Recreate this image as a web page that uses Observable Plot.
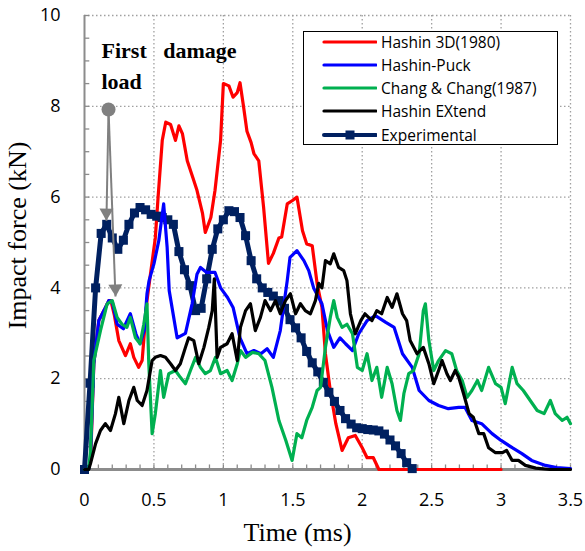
<!DOCTYPE html>
<html><head><meta charset="utf-8">
<script src="https://cdn.jsdelivr.net/npm/d3@7"></script>
<script src="https://cdn.jsdelivr.net/npm/@observablehq/plot@0.6"></script>
<style>
html,body{margin:0;padding:0;background:#fff;}
#wrap{position:relative;width:585px;height:551px;}
#legend{position:absolute;left:303px;top:31px;width:253px;height:112px;border:1.5px solid #000;background:#fff;font-family:"Open Sans",sans-serif;font-size:15.5px;color:#000;}
#legend .row{position:absolute;left:0;height:20px;white-space:nowrap;}
#legend .row svg{position:absolute;left:17px;top:0;}
#legend .row span{position:absolute;left:77px;top:0;line-height:20px;}
</style>
</head><body><div id="wrap"></div>
<script>
// ---- Data ----
const xTicks = [0, 0.5, 1, 1.5, 2, 2.5, 3, 3.5];
const yTicks = [0, 2, 4, 6, 8, 10];

const seriesNames = ["Hashin 3D(1980)", "Hashin-Puck", "Chang & Chang(1987)", "Hashin EXtend", "Experimental"];
const seriesColors = ["#ff0000", "#0000ff", "#00b050", "#000000", "#002060"];

const hashin3dT = [0, 0.03, 0.045, 0.067, 0.103, 0.14, 0.175, 0.19, 0.215, 0.247, 0.295, 0.33, 0.355, 0.39, 0.415, 0.45, 0.475, 0.51, 0.53, 0.56, 0.585, 0.62, 0.655, 0.68, 0.705, 0.74, 0.78, 0.81, 0.85, 0.87, 0.91, 0.94, 0.98, 1.0, 1.04, 1.07, 1.1, 1.12, 1.145, 1.17, 1.2, 1.22, 1.255, 1.29, 1.325, 1.36, 1.4, 1.42, 1.46, 1.495, 1.53, 1.57, 1.6, 1.64, 1.675, 1.71, 1.735, 1.77, 1.81, 1.855, 1.9, 1.95, 2.0, 2.035, 2.08, 2.12, 3.0];
const hashin3dF = [0, 0, 0.26, 2.33, 3.28, 3.5, 3.72, 3.72, 3.4, 2.84, 2.51, 2.77, 2.47, 2.25, 2.4, 3.72, 4.3, 5.1, 6.0, 7.25, 7.65, 7.6, 7.25, 7.57, 7.4, 6.8, 6.43, 6.15, 5.64, 5.22, 5.55, 6.15, 7.25, 8.5, 8.45, 8.2, 8.3, 8.52, 8.0, 7.45, 7.2, 6.96, 6.8, 5.77, 4.54, 4.76, 5.1, 5.12, 5.85, 5.92, 6.0, 5.26, 4.97, 4.93, 4.1, 3.57, 2.55, 1.74, 1.01, 0.42, 0.7, 0.75, 0.48, 0.26, 0.26, 0, 0];

const puckT = [0, 0.03, 0.043, 0.067, 0.103, 0.14, 0.175, 0.2, 0.235, 0.28, 0.33, 0.37, 0.4, 0.43, 0.45, 0.465, 0.5, 0.535, 0.57, 0.595, 0.61, 0.667, 0.727, 0.775, 0.81, 0.835, 0.88, 0.94, 0.98, 1.03, 1.07, 1.12, 1.17, 1.22, 1.27, 1.315, 1.36, 1.41, 1.46, 1.48, 1.53, 1.58, 1.615, 1.65, 1.71, 1.75, 1.795, 1.84, 1.88, 1.93, 1.975, 2.035, 2.095, 2.17, 2.23, 2.29, 2.36, 2.41, 2.48, 2.55, 2.62, 2.695, 2.74, 2.79, 2.86, 2.935, 3.0, 3.08, 3.15, 3.22, 3.32, 3.4, 3.5];
const puckF = [0, 0, 0.26, 2.33, 3.28, 3.5, 3.72, 3.7, 3.2, 3.1, 3.43, 2.99, 2.77, 3.06, 3.87, 4.16, 4.53, 5.04, 5.85, 4.9, 3.94, 2.9, 3.0, 3.65, 4.3, 4.45, 4.34, 4.34, 4.0, 3.79, 3.57, 2.9, 2.55, 2.62, 2.55, 2.66, 2.47, 3.06, 4.16, 4.67, 4.82, 4.6, 4.38, 4.0, 3.65, 3.06, 2.69, 2.9, 2.77, 2.62, 2.99, 3.28, 3.39, 3.24, 3.13, 2.55, 2.25, 1.74, 1.52, 1.41, 1.34, 1.37, 1.37, 1.08, 1.01, 0.79, 0.64, 0.48, 0.35, 0.2, 0.09, 0.04, 0.02];

const changT = [0, 0.03, 0.043, 0.067, 0.115, 0.163, 0.2, 0.235, 0.27, 0.305, 0.33, 0.367, 0.4, 0.427, 0.45, 0.463, 0.487, 0.51, 0.547, 0.57, 0.607, 0.655, 0.69, 0.727, 0.763, 0.8, 0.835, 0.87, 0.907, 0.943, 0.98, 1.027, 1.063, 1.1, 1.123, 1.16, 1.21, 1.255, 1.3, 1.35, 1.4, 1.45, 1.495, 1.53, 1.565, 1.6, 1.64, 1.675, 1.7, 1.735, 1.77, 1.795, 1.82, 1.855, 1.89, 1.93, 1.965, 2.0, 2.035, 2.07, 2.105, 2.14, 2.18, 2.215, 2.25, 2.275, 2.3, 2.335, 2.37, 2.41, 2.44, 2.455, 2.48, 2.515, 2.55, 2.6, 2.645, 2.68, 2.72, 2.755, 2.79, 2.83, 2.86, 2.91, 2.96, 3.0, 3.03, 3.08, 3.115, 3.16, 3.21, 3.26, 3.31, 3.355, 3.39, 3.44, 3.475, 3.5];
const changF = [0, 0, 0.4, 2.4, 3.06, 3.65, 3.72, 3.35, 3.2, 3.13, 3.35, 2.9, 2.77, 3.2, 3.65, 2.33, 0.79, 1.23, 2.18, 1.59, 2.11, 2.18, 2.03, 1.89, 2.18, 2.47, 2.25, 2.11, 2.18, 2.47, 2.11, 2.18, 1.96, 2.33, 2.62, 2.47, 2.58, 2.55, 2.4, 1.81, 1.08, 0.64, 0.2, 0.79, 0.7, 1.08, 1.37, 1.74, 1.81, 2.69, 3.35, 3.72, 3.35, 3.13, 3.2, 2.99, 2.25, 2.18, 2.55, 1.96, 2.25, 1.59, 2.25, 1.89, 1.3, 1.08, 1.67, 2.11, 2.18, 2.55, 3.5, 3.65, 2.84, 2.18, 2.4, 2.62, 2.55, 2.18, 1.96, 1.59, 1.74, 1.96, 1.74, 2.25, 1.89, 1.81, 1.45, 2.25, 1.89, 1.74, 1.52, 1.3, 1.23, 1.52, 1.23, 1.08, 1.15, 1.01];

const extendT = [0, 0.03, 0.043, 0.08, 0.115, 0.15, 0.187, 0.223, 0.247, 0.283, 0.32, 0.355, 0.38, 0.415, 0.45, 0.487, 0.51, 0.547, 0.583, 0.62, 0.655, 0.69, 0.727, 0.75, 0.787, 0.823, 0.86, 0.895, 0.92, 0.935, 0.955, 0.98, 1.027, 1.063, 1.1, 1.123, 1.16, 1.195, 1.23, 1.267, 1.3, 1.34, 1.375, 1.41, 1.447, 1.483, 1.52, 1.555, 1.59, 1.627, 1.663, 1.687, 1.71, 1.735, 1.77, 1.795, 1.83, 1.867, 1.89, 1.915, 1.95, 1.99, 2.02, 2.07, 2.105, 2.14, 2.18, 2.215, 2.25, 2.29, 2.32, 2.345, 2.395, 2.44, 2.48, 2.515, 2.55, 2.575, 2.61, 2.635, 2.67, 2.695, 2.73, 2.77, 2.8, 2.84, 2.875, 2.91, 2.96, 3.01, 3.04, 3.08, 3.125, 3.175, 3.25, 3.35, 3.5];
const extendF = [0, 0, 0.13, 0.57, 0.86, 1.01, 0.86, 1.23, 1.59, 1.01, 1.52, 1.81, 1.52, 1.41, 1.74, 2.4, 2.47, 2.51, 2.47, 2.33, 2.18, 2.33, 2.69, 2.9, 2.84, 2.33, 2.69, 3.13, 3.5, 4.2, 2.47, 2.69, 2.77, 2.99, 2.4, 3.13, 3.5, 3.65, 3.06, 3.35, 3.72, 3.5, 3.72, 3.43, 3.72, 3.87, 3.43, 3.65, 3.5, 3.43, 3.72, 4.1, 4.0, 4.6, 4.53, 4.75, 4.45, 4.38, 4.16, 3.43, 2.99, 3.28, 3.43, 3.28, 3.5, 3.43, 3.79, 3.57, 3.87, 3.43, 3.28, 2.84, 2.55, 2.69, 2.33, 1.89, 2.18, 2.4, 2.11, 1.96, 2.18, 2.03, 1.67, 1.23, 1.15, 0.79, 0.79, 0.48, 0.37, 0.37, 0.42, 0.2, 0.2, 0.09, 0.03, 0, 0];

const expT = [0, 0.04, 0.08, 0.12, 0.16, 0.2, 0.24, 0.28, 0.32, 0.36, 0.4, 0.44, 0.48, 0.52, 0.56, 0.6, 0.64, 0.68, 0.72, 0.76, 0.8, 0.84, 0.88, 0.92, 0.96, 1.0, 1.04, 1.08, 1.12, 1.16, 1.2, 1.24, 1.28, 1.32, 1.36, 1.4, 1.44, 1.48, 1.52, 1.56, 1.6, 1.64, 1.68, 1.72, 1.76, 1.8, 1.84, 1.88, 1.92, 1.96, 2.0, 2.04, 2.08, 2.12, 2.16, 2.2, 2.24, 2.28, 2.32, 2.36];
const expF = [0, 1.9, 4.0, 5.2, 5.4, 5.1, 4.85, 5.05, 5.4, 5.65, 5.77, 5.72, 5.62, 5.58, 5.55, 5.5, 5.4, 4.8, 4.4, 4.05, 3.5, 3.55, 4.2, 4.85, 5.3, 5.5, 5.7, 5.68, 5.55, 5.15, 4.6, 4.2, 4.0, 3.9, 3.82, 3.72, 3.55, 3.3, 3.12, 2.9, 2.6, 2.35, 2.15, 1.92, 1.7, 1.5, 1.3, 1.12, 1.0, 0.92, 0.9, 0.88, 0.87, 0.85, 0.78, 0.65, 0.52, 0.35, 0.15, 0.02];

// first damage annotation (time, force)
const damageOrigin = [{t: 0.173, f: 7.93}];
const damageTargets = [{t: 0.158, f: 5.48, rot: 181}, {t: 0.223, f: 3.81, rot: 178}];

// ---- Build ----
const toRows = (T, F) => T.map((t, i) => ({t, f: F[i]}));
const red = toRows(hashin3dT, hashin3dF);
const blue = toRows(puckT, puckF);
const green = toRows(changT, changF);
const black = toRows(extendT, extendF);
const exp = toRows(expT, expF);

const xMinor = d3.range(0, 36).map(i => i / 10);
const yMinor = d3.range(0, 21).map(i => i / 2);
const grey = "#8c8c8c";
const gridStyle = {stroke: "#a0a0a0", strokeOpacity: 1, strokeWidth: 1.3, strokeDasharray: "1.5,2.5"};

const links = damageTargets.map(d => ({x1: damageOrigin[0].t, y1: damageOrigin[0].f, x2: d.t, y2: d.f}));

const chart = Plot.plot({
  width: 585, height: 551,
  marginLeft: 84, marginRight: 15, marginTop: 15, marginBottom: 82,
  x: {domain: [0, 3.5]},
  y: {domain: [0, 10]},
  style: {fontFamily: "'Open Sans', sans-serif", background: "#fff", color: "#000"},
  marks: [
    Plot.gridX(xTicks.slice(1), gridStyle),
    Plot.gridY(yTicks.slice(1), gridStyle),
    Plot.ruleX(xMinor, {y1: 0, y2: 0.1, stroke: grey, strokeWidth: 1.3}),
    Plot.ruleY(yMinor, {x1: 0, x2: 0.038, stroke: grey, strokeWidth: 1.3}),
    Plot.ruleY([0], {stroke: grey, strokeWidth: 3}),
    Plot.ruleX([0], {stroke: grey, strokeWidth: 2}),
    Plot.line(red, {x: "t", y: "f", stroke: seriesColors[0], strokeWidth: 3.2}),
    Plot.line(exp, {x: "t", y: "f", stroke: seriesColors[4], strokeWidth: 5}),
    Plot.dot(exp, {x: "t", y: "f", symbol: "square", r: 5.1, fill: seriesColors[4], stroke: "none"}),
    Plot.line(blue, {x: "t", y: "f", stroke: seriesColors[1], strokeWidth: 3.2}),
    Plot.line(green, {x: "t", y: "f", stroke: seriesColors[2], strokeWidth: 3.2}),
    Plot.line(black, {x: "t", y: "f", stroke: seriesColors[3], strokeWidth: 3.2}),
    Plot.link(links, {x1: "x1", y1: "y1", x2: "x2", y2: "y2", stroke: "#808080", strokeWidth: 2}),
    Plot.dot(damageTargets, {x: "t", y: "f", symbol: "triangle", r: 5.2, fill: "#808080", stroke: "none", rotate: "rot", dy: -8}),
    Plot.dot(damageOrigin, {x: "t", y: "f", r: 7, fill: "#808080", stroke: "none"}),
    Plot.text(["First\u00a0\u00a0 damage"], {frameAnchor: "top-left", textAnchor: "start", lineAnchor: "middle", dx: 17, dy: 35, fontSize: 22, fontWeight: "bold", fontFamily: "'Liberation Serif', serif", fill: "#000"}),
    Plot.text(["load"], {frameAnchor: "top-left", textAnchor: "start", lineAnchor: "middle", dx: 17, dy: 66, fontSize: 22, fontWeight: "bold", fontFamily: "'Liberation Serif', serif", fill: "#000"}),
    Plot.axisX({ticks: xTicks, tickSize: 0, tickPadding: 24, fontSize: 18, tickFormat: d => String(d), label: null}),
    Plot.axisY({ticks: yTicks, tickSize: 0, tickPadding: 24, fontSize: 18, tickFormat: d => String(d), label: null}),
    Plot.text(["Time (ms)"], {frameAnchor: "bottom", textAnchor: "middle", lineAnchor: "middle", dx: -30, dy: 63, fontSize: 26, fontFamily: "'Liberation Serif', serif", fill: "#000"}),
    Plot.text(["Impact force (kN)"], {frameAnchor: "left", textAnchor: "middle", lineAnchor: "middle", rotate: -90, dx: -67, dy: -7, fontSize: 26, fontFamily: "'Liberation Serif', serif", fill: "#000"})
  ]
});

const wrap = document.getElementById("wrap");
wrap.appendChild(chart);

// Legend (overlay inside the plot area, like the original)
const legend = document.createElement("div");
legend.id = "legend";
const rowCenters = [10, 33, 56, 79, 103];
seriesNames.forEach((name, i) => {
  const row = document.createElement("div");
  row.className = "row";
  row.style.top = (rowCenters[i] - 10) + "px";
  row.style.width = "250px";
  const ns = "http://www.w3.org/2000/svg";
  const svg = document.createElementNS(ns, "svg");
  svg.setAttribute("width", 56); svg.setAttribute("height", 20);
  const ln = document.createElementNS(ns, "line");
  ln.setAttribute("x1", 3); ln.setAttribute("x2", 55); ln.setAttribute("y1", 10); ln.setAttribute("y2", 10);
  ln.setAttribute("stroke", seriesColors[i]); ln.setAttribute("stroke-width", i === 4 ? 4 : 3.2);
  ln.setAttribute("stroke-linecap", "round");
  svg.appendChild(ln);
  if (i === 4) {
    const sq = document.createElementNS(ns, "rect");
    sq.setAttribute("x", 24.5); sq.setAttribute("y", 5.5); sq.setAttribute("width", 9); sq.setAttribute("height", 9);
    sq.setAttribute("fill", seriesColors[i]);
    svg.appendChild(sq);
  }
  row.appendChild(svg);
  const span = document.createElement("span");
  span.textContent = name;
  row.appendChild(span);
  legend.appendChild(row);
});
wrap.appendChild(legend);
</script></body></html>
